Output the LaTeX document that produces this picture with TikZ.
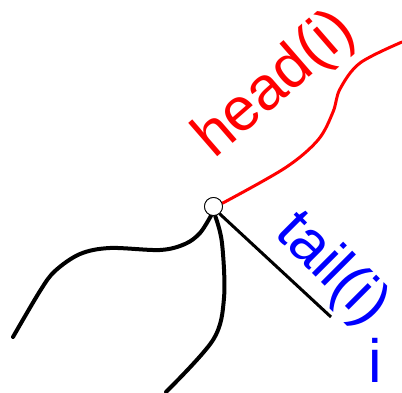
\documentclass[tikz,border=0pt]{standalone}
\usepackage{fontspec}
\setmainfont{Liberation Sans}
\begin{document}
\begin{tikzpicture}[x=1pt,y=-1pt,
  vertex/.style={circle,draw=black,line width=0.8pt,fill=white,minimum size=18pt,inner sep=0pt},
  edgeblack/.style={black,line width=4pt,line cap=round,line join=round},
  edgered/.style={red,line width=3pt,line cap=round},
  edgetail/.style={black,line width=3pt},
  bigtext/.style={inner sep=0pt,font=\fontsize{61}{61}\selectfont}]
\useasboundingbox (0,0) rectangle (402,393);
\node[vertex] (v) at (213.5,206.5) {};
\coordinate (tailend) at (331,317);
\draw[edgeblack] plot[smooth,tension=0.55] coordinates {(v.255) (200,233) (185,244) (160,250) (110,248) (80,254) (55,271) (40,291) (13,337)};
\draw[edgeblack] plot[smooth,tension=0.55] coordinates {(v.280) (222,243) (224,298) (213,340) (166,392)};
\draw[edgetail] (v.310) -- (tailend);
\draw[edgered] plot[smooth,tension=0.55] coordinates {(v.20) (285,168) (318,140) (333,112) (340,89) (360,63) (402,42)};
\node[vertex] at (v) {};
\node[bigtext,red,rotate=41,anchor=base west] (head) at (214,160) {head(i)};
\node[bigtext,blue,rotate=-45,anchor=base west] (tail) at (273,234) {tail(i)};
\node[bigtext,blue,anchor=base] (ilab) at (375,382) {i};
\end{tikzpicture}
\end{document}
